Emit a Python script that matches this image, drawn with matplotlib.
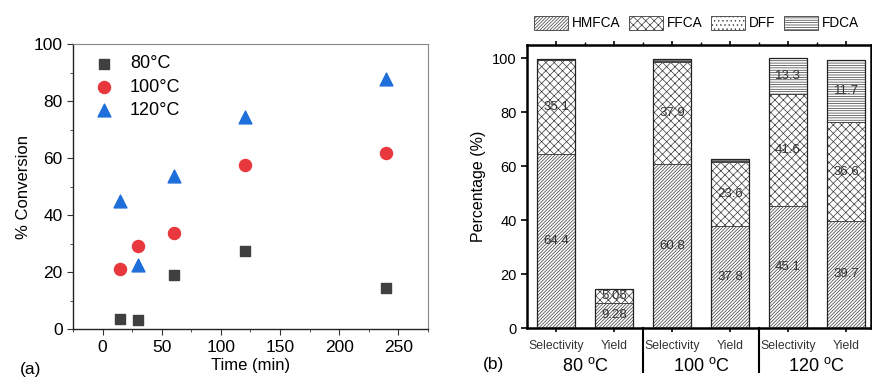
import numpy as np
import matplotlib
matplotlib.use('Agg')
import matplotlib.pyplot as plt
from matplotlib.patches import Patch
from matplotlib.ticker import MultipleLocator

plt.rcParams['font.family'] = ['Liberation Sans', 'DejaVu Sans']
plt.rcParams['mathtext.fontset'] = 'custom'
plt.rcParams['mathtext.rm'] = 'Liberation Sans'
plt.rcParams['hatch.linewidth'] = 0.5

# (a) conversion vs time
time_min = [15, 30, 60, 120, 240]
conv_80 = [3.5, 3.2, 19.0, 27.5, 14.5]
conv_100 = [21.3, 29.3, 33.7, 57.7, 62.0]
conv_120 = [45.0, 22.5, 54.0, 74.5, 88.0]

# (b) stacked selectivity / yield
bar_names = ['Selectivity', 'Yield', 'Selectivity', 'Yield', 'Selectivity', 'Yield']
groups = ['80 $^{\\mathrm{o}}$C', '100 $^{\\mathrm{o}}$C', '120 $^{\\mathrm{o}}$C']
hmfca = [64.4, 9.28, 60.8, 37.8, 45.1, 39.7]
ffca = [35.1, 5.05, 37.9, 23.6, 41.6, 36.6]
dff = [0.0, 0.0, 0.3, 0.4, 0.0, 0.0]
fdca = [0.4, 0.0, 0.8, 0.8, 13.3, 23.2]
hmfca_lbl = ['64.4', '9.28', '60.8', '37.8', '45.1', '39.7']
ffca_lbl = ['35.1', '5.05', '37.9', '23.6', '41.6', '36.6']
fdca_lbl = ['', '', '', '', '13.3', '11.7']

h_hmfca = '//////////'
h_ffca = 'xxxx'
h_dff = '....'
h_fdca = '-------'

fig = plt.figure(figsize=(8.72, 3.83), dpi=100)

# ---- panel (a)
ax1 = fig.add_axes([0.0837, 0.140, 0.407, 0.744])
ax1.scatter(time_min, conv_80, marker='s', s=55, color='#404040', label='80°C', zorder=3)
ax1.scatter(time_min, conv_100, marker='o', s=75, color='#e8383d', label='100°C', zorder=3)
ax1.scatter(time_min, conv_120, marker='^', s=85, color='#1f6fdb', label='120°C', zorder=3)
ax1.set_xlim(-25, 275)
ax1.set_ylim(0, 100)
ax1.xaxis.set_major_locator(MultipleLocator(50))
ax1.xaxis.set_minor_locator(MultipleLocator(25))
ax1.yaxis.set_major_locator(MultipleLocator(20))
ax1.yaxis.set_minor_locator(MultipleLocator(10))
ax1.tick_params(which='both', direction='out', labelsize=12.5, color='#333333')
ax1.tick_params(which='major', length=4)
ax1.tick_params(which='minor', length=2.5)
for s in ['top', 'right']:
    ax1.spines[s].set_color('#888888')
    ax1.spines[s].set_linewidth(0.8)
for s in ['left', 'bottom']:
    ax1.spines[s].set_color('#222222')
    ax1.spines[s].set_linewidth(1.0)
ax1.set_xlabel('Time (min)', fontsize=12, labelpad=2)
ax1.set_ylabel('% Conversion', fontsize=12, labelpad=2)
ax1.legend(loc='upper left', bbox_to_anchor=(0.005, 1.0), frameon=False, fontsize=13,
           handletextpad=0.45, labelspacing=0.35, borderaxespad=0.2)
fig.text(0.023, 0.034, '(a)', fontsize=12.5, va='center', ha='left')

# ---- panel (b)
ax2 = fig.add_axes([0.6044, 0.1436, 0.395, 0.739])
x = np.arange(1, len(bar_names) + 1)
w = 0.65
hatch_ec = '#3a3a3a'
b1 = np.array(hmfca)
b2 = b1 + np.array(ffca)
b3 = b2 + np.array(dff)
ax2.bar(x, hmfca, w, color='white', edgecolor=hatch_ec, hatch=h_hmfca, linewidth=0.6, zorder=2)
ax2.bar(x, ffca, w, bottom=b1, color='white', edgecolor=hatch_ec, hatch=h_ffca, linewidth=0.6, zorder=2)
ax2.bar(x, dff, w, bottom=b2, color='white', edgecolor=hatch_ec, hatch=h_dff, linewidth=0.6, zorder=2)
ax2.bar(x, fdca, w, bottom=b3, color='white', edgecolor=hatch_ec, hatch=h_fdca, linewidth=0.6, zorder=2)
# outlines
ax2.bar(x, b3 + np.array(fdca), w, color='none', edgecolor='#222222', linewidth=0.9, zorder=3)

for i in range(len(x)):
    ax2.text(x[i], hmfca[i] / 2, hmfca_lbl[i], ha='center', va='center', fontsize=9.5, color='#333333', zorder=4)
    ax2.text(x[i], b1[i] + ffca[i] / 2, ffca_lbl[i], ha='center', va='center', fontsize=9.5, color='#333333', zorder=4)
    if fdca_lbl[i]:
        ax2.text(x[i], b3[i] + fdca[i] / 2, fdca_lbl[i], ha='center', va='center', fontsize=9.5, color='#333333', zorder=4)

ax2.set_xlim(0.5, 6.44)
ax2.set_ylim(0, 105)
ax2.yaxis.set_major_locator(MultipleLocator(20))
ax2.set_xticks(x)
ax2.set_xticks(x[:-1] + 0.5, minor=True)
ax2.set_xticklabels([])
ax2.tick_params(axis='y', which='major', direction='out', length=4, width=1.2, labelsize=10.5,
                right=True)
ax2.tick_params(axis='x', which='major', direction='out', length=3, width=1.2, top=True)
ax2.tick_params(axis='x', which='minor', length=2, width=1.0, top=True, bottom=False)
for s in ['left', 'bottom', 'top', 'right']:
    ax2.spines[s].set_linewidth(1.8)
    ax2.spines[s].set_color('black')
ax2.set_ylabel('Percentage (%)', fontsize=11.5, labelpad=4)

trans = ax2.get_xaxis_transform()
for i in range(len(x)):
    ax2.text(x[i], -0.062, bar_names[i], transform=trans, ha='center', va='center',
             fontsize=8.8, color='#333333')
for g in range(len(groups)):
    ax2.text(x[2 * g] + 0.5, -0.135, groups[g], transform=trans, ha='center', va='center',
             fontsize=13)
for xs in [2.5, 4.5]:
    ax2.plot([xs, xs], [0, -0.155], transform=trans, color='black', linewidth=1.5, clip_on=False)
fig.text(0.554, 0.047, '(b)', fontsize=12.5, va='center', ha='left')

handles = [Patch(facecolor='white', edgecolor=hatch_ec, hatch=h_hmfca, linewidth=0.6),
           Patch(facecolor='white', edgecolor=hatch_ec, hatch=h_ffca, linewidth=0.6),
           Patch(facecolor='white', edgecolor=hatch_ec, hatch=h_dff, linewidth=0.6),
           Patch(facecolor='white', edgecolor=hatch_ec, hatch=h_fdca, linewidth=0.6)]
fig.legend(handles, ['HMFCA', 'FFCA', 'DFF', 'FDCA'], loc='center', bbox_to_anchor=(0.799, 0.94),
           ncol=4, frameon=False, fontsize=9.8, handlelength=2.5, handleheight=1.2,
           handletextpad=0.3, columnspacing=0.6)

fig.savefig('out.png', dpi=100)
